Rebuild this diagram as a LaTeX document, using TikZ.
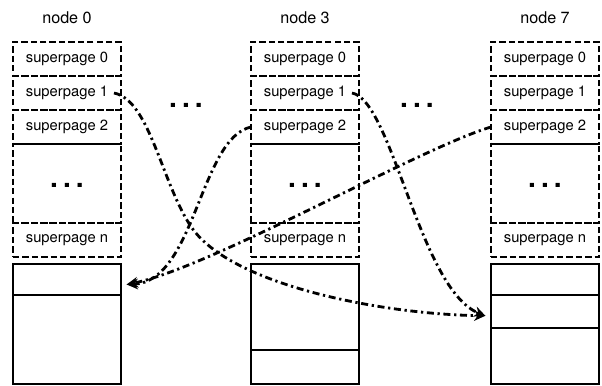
\documentclass[tikz,border=0pt]{standalone}
\usepackage{fontspec}
\setmainfont{TeX Gyre Heros}
\usetikzlibrary{positioning,arrows.meta}

\newcommand{\gapdots}{{\fontsize{20}{20}\selectfont\bfseries .\hspace{3.6pt}.\hspace{3.6pt}.}}

\begin{document}
\begin{tikzpicture}[x=0.025cm,y=-0.025cm,>={Stealth[length=8pt,width=7.5pt]}]
 \useasboundingbox (0,0) rectangle (602,386);
 \tikzstyle{every node} = [inner sep=0pt,outer sep=0pt,font=\fontsize{10.5}{12}\selectfont]
 \tikzstyle{page} = [draw,line width=1.2pt,dash pattern=on 4.5pt off 2.2pt,
   minimum width=2.7cm,minimum height=0.85cm]
 \tikzstyle{slot} = [draw,line width=1.2pt,minimum width=2.7cm]
 \tikzstyle{link} = [->,line width=2pt,dash pattern=on 5pt off 2.6pt on 1.6pt off 2.6pt]
 % titles
 \node[font=\fontsize{11.5}{13}\selectfont] (t0) at (67,18) {node 0};
 \node[font=\fontsize{11.5}{13}\selectfont] (t3) at (305,18) {node 3};
 \node[font=\fontsize{11.5}{13}\selectfont] (t7) at (545,18) {node 7};
 % node 0
 \node[page] (n0s0) at (67,59) {superpage 0};
 \node[page,below=0pt of n0s0] (n0s1) {superpage 1};
 \node[page,below=0pt of n0s1] (n0s2) {superpage 2};
 \node[page,below=0pt of n0s2,minimum height=1.975cm] (n0d) {};
 \node[page,below=0pt of n0d] (n0sn) {superpage n};
 \node[slot,below=0.175cm of n0sn,minimum height=0.775cm] (n0a) {};
 \node[slot,below=0pt of n0a,minimum height=2.225cm] (n0b) {};
 % node 3
 \node[page] (n3s0) at (305,59) {superpage 0};
 \node[page,below=0pt of n3s0] (n3s1) {superpage 1};
 \node[page,below=0pt of n3s1] (n3s2) {superpage 2};
 \node[page,below=0pt of n3s2,minimum height=1.975cm] (n3d) {};
 \node[page,below=0pt of n3d] (n3sn) {superpage n};
 \node[slot,below=0.175cm of n3sn,minimum height=2.15cm] (n3a) {};
 \node[slot,below=0pt of n3a,minimum height=0.85cm] (n3b) {};
 % node 7
 \node[page] (n7s0) at (545,59) {superpage 0};
 \node[page,below=0pt of n7s0] (n7s1) {superpage 1};
 \node[page,below=0pt of n7s1] (n7s2) {superpage 2};
 \node[page,below=0pt of n7s2,minimum height=1.975cm] (n7d) {};
 \node[page,below=0pt of n7d] (n7sn) {superpage n};
 \node[slot,below=0.175cm of n7sn,minimum height=0.775cm] (n7a) {};
 \node[slot,below=0pt of n7a,minimum height=0.825cm] (n7b) {};
 \node[slot,below=0pt of n7b,minimum height=1.4cm] (n7c) {};
 % dots
 \node (g03) at (186,105) {\gapdots};
 \node (g37) at (417,105) {\gapdots};
 \node at ([yshift=-1.5pt]n0d.center) {\gapdots};
 \node at ([yshift=-1.5pt]n3d.center) {\gapdots};
 \node at ([yshift=-1.5pt]n7d.center) {\gapdots};
 % moves
 \draw[link] ([xshift=-5pt]n0s1.east) .. controls (150,100) and (162,185) .. (192,228)
   .. controls (232,285) and (380,314) .. ([xshift=-4pt,yshift=-3pt]n7b.west);
 \draw[link] (n3s2.west) .. controls (200,138) and (195,282) .. ([xshift=4pt,yshift=-3.5pt]n0a.east);
 \draw[link] ([xshift=-5pt]n3s1.east) .. controls (392,100) and (420,290) .. ([xshift=-4pt,yshift=-3pt]n7b.west);
 \draw[link] (n7s2.west) .. controls (420,148) and (210,268) .. ([xshift=4pt,yshift=-3.5pt]n0a.east);
\end{tikzpicture}
\end{document}
